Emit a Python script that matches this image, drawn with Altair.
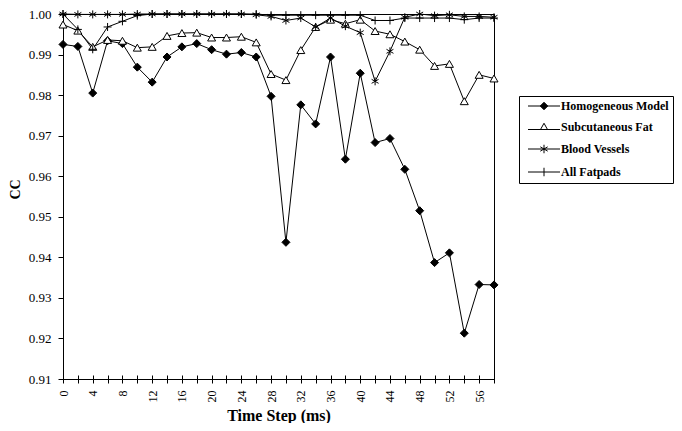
import altair as alt
import pandas as pd

# ---- data ----
times = list(range(0, 60, 2))
series_names = ["Homogeneous Model", "Subcutaneous Fat", "Blood Vessels", "All Fatpads"]

homogeneous = [0.9925, 0.9920, 0.9805, 0.9934, 0.9927, 0.9869, 0.9832, 0.9894, 0.9919, 0.9927,
               0.9912, 0.9901, 0.9905, 0.9894, 0.9797, 0.9437, 0.9776, 0.9729, 0.9894, 0.9642,
               0.9854, 0.9683, 0.9693, 0.9617, 0.9515, 0.9387, 0.9411, 0.9213, 0.9333, 0.9332]
subcutaneous = [0.9974, 0.9959, 0.9919, 0.9936, 0.9934, 0.9917, 0.9919, 0.9946, 0.9953, 0.9954,
                0.9942, 0.9942, 0.9944, 0.9930, 0.9852, 0.9837, 0.9911, 0.9968, 0.9986, 0.9976,
                0.9986, 0.9958, 0.9950, 0.9932, 0.9912, 0.9872, 0.9877, 0.9785, 0.9850, 0.9841]
vessels = [1.0000, 0.9999, 0.9999, 0.9999, 0.9999, 1.0000, 1.0000, 1.0000, 1.0000, 1.0000,
           1.0000, 1.0000, 1.0000, 0.9998, 0.9994, 0.9984, 0.9990, 0.9968, 0.9990, 0.9970,
           0.9954, 0.9834, 0.9908, 0.9992, 1.0000, 0.9996, 0.9998, 0.9994, 0.9994, 0.9992]
fatpads = [1.0000, 0.9962, 0.9913, 0.9968, 0.9982, 0.9996, 1.0000, 1.0000, 1.0000, 1.0000,
           1.0000, 1.0000, 1.0000, 1.0000, 0.9997, 0.9997, 0.9997, 0.9997, 0.9997, 0.9997,
           0.9997, 0.9984, 0.9984, 0.9990, 0.9990, 0.9990, 0.9990, 0.9986, 0.9990, 0.9990]

x_ticks = list(range(0, 60, 2))
y_ticks = [0.91, 0.92, 0.93, 0.94, 0.95, 0.96, 0.97, 0.98, 0.99, 1.00]

rows = []
for name, vals in zip(series_names, [homogeneous, subcutaneous, vessels, fatpads]):
    for t, v in zip(times, vals):
        rows.append({"t": t, "cc": v, "series": name})
df = pd.DataFrame(rows)

# ---- styling ----
FONT = "Liberation Serif"
STAR = "M0,-1L0,1M-0.87,-0.5L0.87,0.5M-0.87,0.5L0.87,-0.5"
PLUS = "M-1,0L1,0M0,-1L0,1"
point_shapes = ["diamond", "triangle-up", STAR, PLUS]
point_fills = ["black", "white", "transparent", "transparent"]

# legend symbols: a short line with the marker in its middle (unit = 5 px at symbolSize 100)
legend_shapes = [
    "M-3.2,0L3.2,0M-0.75,0L0,-0.75L0.75,0L0,0.75Z",
    "M-3.2,0.5L3.2,0.5M0,-0.75L0.7,0.5L-0.7,0.5Z",
    "M-3.2,0L3.2,0M0,-0.85L0,0.85M-0.74,-0.43L0.74,0.43M-0.74,0.43L0.74,-0.43",
    "M-3.2,0L3.2,0M0,-0.85L0,0.85",
]
legend_fills = ["black", "white", "transparent", "transparent"]
legend_strokes = ["black", "black", "black", "black"]

x_enc = alt.X(
    "t:Q",
    scale=alt.Scale(domain=[0, 58], nice=False),
    axis=alt.Axis(
        values=x_ticks,
        labelExpr="datum.value % 4 == 0 && datum.value < 58 ? datum.label : ''",
        labelAngle=270,
        labelFlush=False,
        labelOverlap=False,
        labelFont=FONT,
        labelFontSize=12,
        labelColor="black",
        labelPadding=7,
        domain=False,
        grid=False,
        ticks=True,
        tickColor="black",
        tickSize=8,
        offset=-4,
        title="Time Step (ms)",
        titleFont=FONT,
        titleFontSize=16,
        titleFontWeight="bold",
        titleColor="black",
        titleBaseline="middle",
        titleY=40,
    ),
)
y_enc = alt.Y(
    "cc:Q",
    scale=alt.Scale(domain=[0.91, 1.0], nice=False, zero=False),
    axis=alt.Axis(
        values=y_ticks,
        format=".2f",
        labelFont=FONT,
        labelFontSize=13,
        labelColor="black",
        labelPadding=7,
        labelOverlap=False,
        labelFlush=False,
        domain=False,
        grid=False,
        tickColor="black",
        tickSize=5,
        title="CC",
        titleFont=FONT,
        titleFontSize=14,
        titleFontWeight="bold",
        titleColor="black",
        titleX=-41,
        titleY=175,
    ),
)

base = alt.Chart(df)

lines = base.mark_line(color="black", strokeWidth=1).encode(
    x=x_enc, y=y_enc, detail="series:N"
)

points = base.mark_point(filled=True, stroke="black", strokeWidth=1, size=64, opacity=1).encode(
    x=x_enc,
    y=y_enc,
    shape=alt.Shape("series:N", scale=alt.Scale(domain=series_names, range=point_shapes), legend=None),
    fill=alt.Fill("series:N", scale=alt.Scale(domain=series_names, range=point_fills), legend=None),
)

legend = alt.Legend(
    orient="none",
    legendX=456,
    legendY=82,
    strokeColor="black",
    fillColor="white",
    padding=4,
    labelFont=FONT,
    labelFontSize=12,
    labelFontWeight="bold",
    labelColor="black",
    labelOffset=11,
    symbolOffset=15,
    symbolSize=100,
    symbolStrokeWidth=1,
    symbolStrokeColor="black",
    rowPadding=9,
)

legend_layer = base.transform_filter("datum.t < 0").mark_point(
    filled=True, strokeWidth=1, size=100, opacity=1
).encode(
    x=x_enc,
    y=y_enc,
    shape=alt.Shape("series:N", scale=alt.Scale(domain=series_names, range=legend_shapes),
                    legend=legend, title=None),
    fill=alt.Fill("series:N", scale=alt.Scale(domain=series_names, range=legend_fills),
                  legend=legend, title=None),
    stroke=alt.Stroke("series:N", scale=alt.Scale(domain=series_names, range=legend_strokes),
                      legend=legend, title=None),
)

chart = (
    alt.layer(lines, points, legend_layer)
    .resolve_scale(shape="independent", fill="independent", stroke="independent")
    .properties(
        width=431,
        height=365,
        autosize=alt.AutoSizeParams(type="none"),
        padding={"left": 55, "top": 6, "right": 180, "bottom": 44},
        background="white",
    )
    .configure_view(stroke="black", strokeWidth=1)
)

chart.save("out.html", embed_options={"renderer": "svg", "actions": False})
